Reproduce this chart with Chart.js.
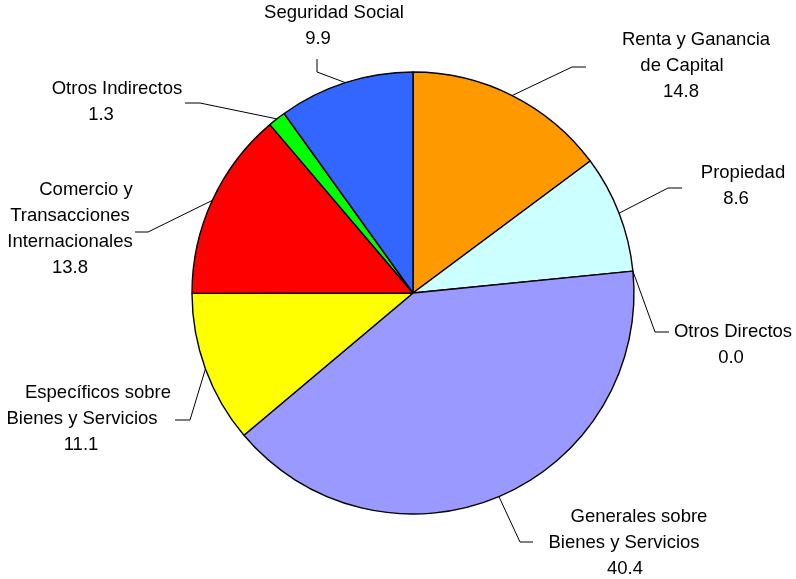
<!DOCTYPE html>
<html>
<head>
<meta charset="utf-8">
<script src="https://cdn.jsdelivr.net/npm/chart.js@4/dist/chart.umd.min.js"></script>
<style>
    html, body { margin: 0; padding: 0; background: #ffffff; }
    #wrap { width: 796px; height: 579px; position: relative; }
</style>
</head>
<body>
<div id="wrap"><canvas id="pieChart" width="796" height="579"></canvas></div>
<script>
// Estructura de la recaudación (%)
const categories = [
    'Renta y Ganancia\nde Capital',
    'Propiedad',
    'Otros Directos',
    'Generales sobre\nBienes y Servicios',
    'Específicos sobre\nBienes y Servicios',
    'Comercio y\nTransacciones\nInternacionales',
    'Otros Indirectos',
    'Seguridad Social'
];
const shares = [14.8, 8.6, 0.0, 40.4, 11.1, 13.8, 1.3, 9.9];
const sliceColors = ['#FF9900', '#CCFFFF', '#99CC00', '#9999FF', '#FFFF00', '#FF0000', '#00FF00', '#3366FF'];

// where each label sits: centre x of every text line, first baseline-middle y,
// and the elbow / end of its leader line
const labelLayout = [
    { xs: [696, 682, 681], y: 40, elbow: [572, 67], end: [586, 67] },
    { xs: [743, 736], y: 173, elbow: [668, 188], end: [682, 188] },
    { xs: [733, 731], y: 332, elbow: [655, 332], end: [669, 332] },
    { xs: [639, 624, 625], y: 517, elbow: [520, 542], end: [533, 542] },
    { xs: [98, 82, 81], y: 393, elbow: [190, 420], end: [175, 420] },
    { xs: [86, 70, 70, 70], y: 190, elbow: [148, 232], end: [135, 232] },
    { xs: [117, 101], y: 89, elbow: [200, 103], end: [185, 103] },
    { xs: [334, 318], y: 13, elbow: [317, 72], end: [317, 59] }
];
const lineHeight = 26;

const leaderLabels = {
    id: 'leaderLabels',
    afterDatasetsDraw(chart) {
        const ctx = chart.ctx;
        const arcs = chart.getDatasetMeta(0).data;
        ctx.save();
        arcs.forEach((arc, i) => {
            const layout = labelLayout[i];
            const mid = (arc.startAngle + arc.endAngle) / 2;
            const sx = arc.x + Math.cos(mid) * arc.outerRadius;
            const sy = arc.y + Math.sin(mid) * arc.outerRadius;

            ctx.beginPath();
            ctx.strokeStyle = '#000000';
            ctx.lineWidth = 1;
            ctx.moveTo(sx, sy);
            ctx.lineTo(layout.elbow[0], layout.elbow[1]);
            ctx.lineTo(layout.end[0], layout.end[1]);
            ctx.stroke();

            const lines = categories[i].split('\n').concat(shares[i].toFixed(1));
            ctx.fillStyle = '#000000';
            ctx.font = '18.5px "Liberation Sans", Arial, sans-serif';
            ctx.textAlign = 'center';
            ctx.textBaseline = 'middle';
            lines.forEach((text, k) => {
                ctx.fillText(text, layout.xs[k], layout.y + k * lineHeight);
            });
        });
        ctx.restore();
    }
};

new Chart(document.getElementById('pieChart').getContext('2d'), {
    type: 'pie',
    data: {
        labels: categories,
        datasets: [{
            data: shares,
            backgroundColor: sliceColors,
            borderColor: '#000000',
            borderWidth: 1.4
        }]
    },
    options: {
        responsive: false,
        animation: false,
        radius: 221,
        layout: {
            padding: { left: 192, right: 162, top: 72, bottom: 65 }
        },
        plugins: {
            legend: { display: false },
            tooltip: { enabled: false }
        }
    },
    plugins: [leaderLabels]
});
</script>
</body>
</html>
